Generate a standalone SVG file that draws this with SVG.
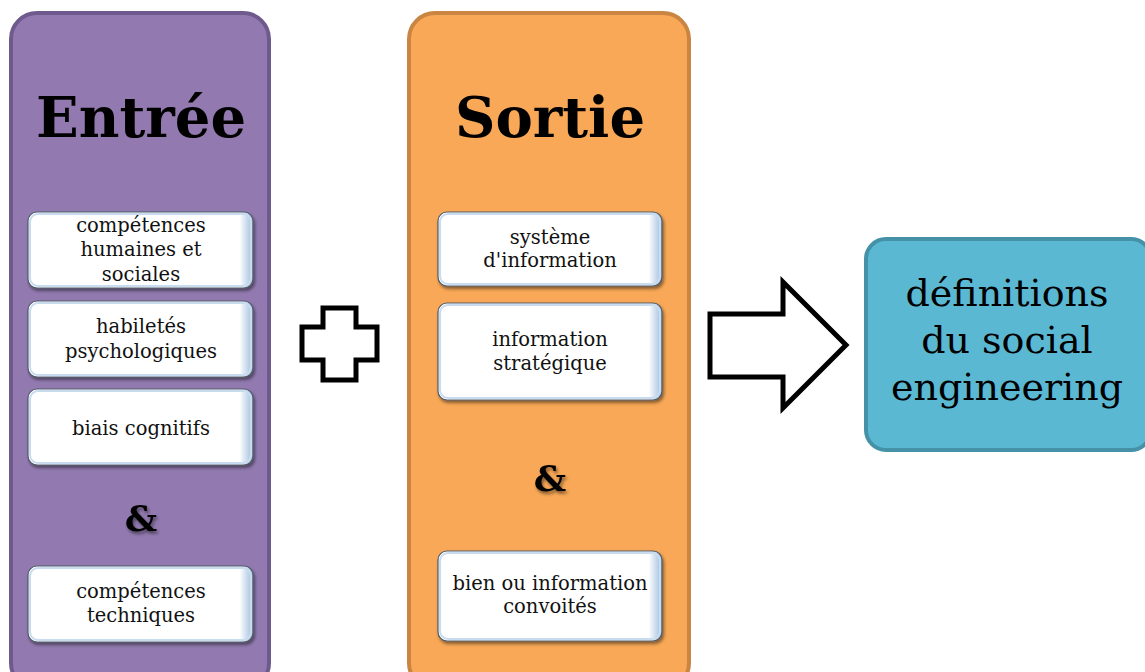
<svg xmlns="http://www.w3.org/2000/svg" width="1145" height="672" viewBox="0 0 1145 672">
<defs>
<filter id="sh" x="-10%" y="-10%" width="125%" height="130%">
<feDropShadow dx="1.5" dy="2.5" stdDeviation="1.5" flood-color="#000" flood-opacity="0.45"/>
</filter>
<filter id="tsh" x="-20%" y="-20%" width="150%" height="150%">
<feDropShadow dx="1.5" dy="2.5" stdDeviation="1.5" flood-color="#000" flood-opacity="0.5"/>
</filter>
<linearGradient id="edgeR" x1="0" y1="0" x2="1" y2="0">
<stop offset="0" stop-color="#ffffff"/>
<stop offset="0.94" stop-color="#ffffff"/>
<stop offset="1" stop-color="#9dbcdd"/>
</linearGradient>
</defs>
<style>
.panel{stroke-width:4}
.box{fill:url(#edgeR);stroke:#4f5b68;stroke-width:1.2;filter:url(#sh)}
.inner{fill:none;stroke:#c9dbef;stroke-width:2}
.t{font-family:"DejaVu Serif","Liberation Serif",serif;font-size:19.5px;fill:#111;text-anchor:middle}
.title{font-family:"DejaVu Serif","Liberation Serif",serif;font-size:56px;font-weight:bold;fill:#000;text-anchor:middle}
.amp{font-family:"DejaVu Serif","Liberation Serif",serif;font-size:36px;font-weight:bold;fill:#000;text-anchor:middle;filter:url(#tsh)}
.big{font-family:"DejaVu Serif","Liberation Serif",serif;font-size:38px;fill:#000;text-anchor:middle}
.sym{fill:#fff;stroke:#000;stroke-width:5;stroke-linejoin:miter}
</style>

<g id="entree">
<rect class="panel" x="11" y="13" width="258" height="676" rx="26" fill="#927ab0" stroke="#6f5a8e"/>
<text class="title" x="141" y="137">Entrée</text>
</g>
<g id="e1">
<rect class="box" x="28" y="212" width="225" height="76" rx="9"/>
<rect class="inner" x="30" y="214" width="221" height="72" rx="8"/>
<text class="t" x="141" y="232">compétences</text>
<text class="t" x="141" y="256">humaines et</text>
<text class="t" x="141" y="281">sociales</text>
</g>
<g id="e2">
<rect class="box" x="28" y="301" width="225" height="76" rx="9"/>
<rect class="inner" x="30" y="303" width="221" height="72" rx="8"/>
<text class="t" x="141" y="333">habiletés</text>
<text class="t" x="141" y="358">psychologiques</text>
</g>
<g id="e3">
<rect class="box" x="28" y="389" width="225" height="76" rx="9"/>
<rect class="inner" x="30" y="391" width="221" height="72" rx="8"/>
<text class="t" x="141" y="435">biais cognitifs</text>
</g>
<g id="e-amp">
<text class="amp" x="141" y="531">&amp;</text>
</g>
<g id="e4">
<rect class="box" x="28" y="566" width="225" height="76" rx="9"/>
<rect class="inner" x="30" y="568" width="221" height="72" rx="8"/>
<text class="t" x="141" y="598">compétences</text>
<text class="t" x="141" y="622">techniques</text>
</g>

<g id="plus">
<path class="sym" d="M323 308 H356 V327 H377 V360 H356 V380 H323 V360 H302 V327 H323 Z"/>
</g>

<g id="sortie">
<rect class="panel" x="409" y="13" width="280" height="676" rx="26" fill="#f8a856" stroke="#c98541"/>
<text class="title" x="550" y="137">Sortie</text>
</g>
<g id="s1">
<rect class="box" x="438" y="212" width="224" height="74" rx="9"/>
<rect class="inner" x="440" y="214" width="220" height="70" rx="8"/>
<text class="t" x="550" y="244">système</text>
<text class="t" x="550" y="267">d'information</text>
</g>
<g id="s2">
<rect class="box" x="438" y="303" width="224" height="97" rx="9"/>
<rect class="inner" x="440" y="305" width="220" height="93" rx="8"/>
<text class="t" x="550" y="346">information</text>
<text class="t" x="550" y="370">stratégique</text>
</g>
<g id="s-amp">
<text class="amp" x="550" y="491">&amp;</text>
</g>
<g id="s3">
<rect class="box" x="438" y="551" width="224" height="90" rx="9"/>
<rect class="inner" x="440" y="553" width="220" height="86" rx="8"/>
<text class="t" x="550" y="590">bien ou information</text>
<text class="t" x="550" y="613">convoités</text>
</g>

<g id="connectors">
<path class="sym" d="M710 314 H783 V282 L846 345 L783 408 V377 H710 Z" stroke-width="4.5"/>
</g>

<g id="definitions">
<rect x="866" y="239" width="285" height="211" rx="20" fill="#5bb8d3" stroke="#4592a8" stroke-width="4"/>
<text class="big" x="1007" y="306">définitions</text>
<text class="big" x="1007" y="353">du social</text>
<text class="big" x="1007" y="400">engineering</text>
</g>
</svg>
